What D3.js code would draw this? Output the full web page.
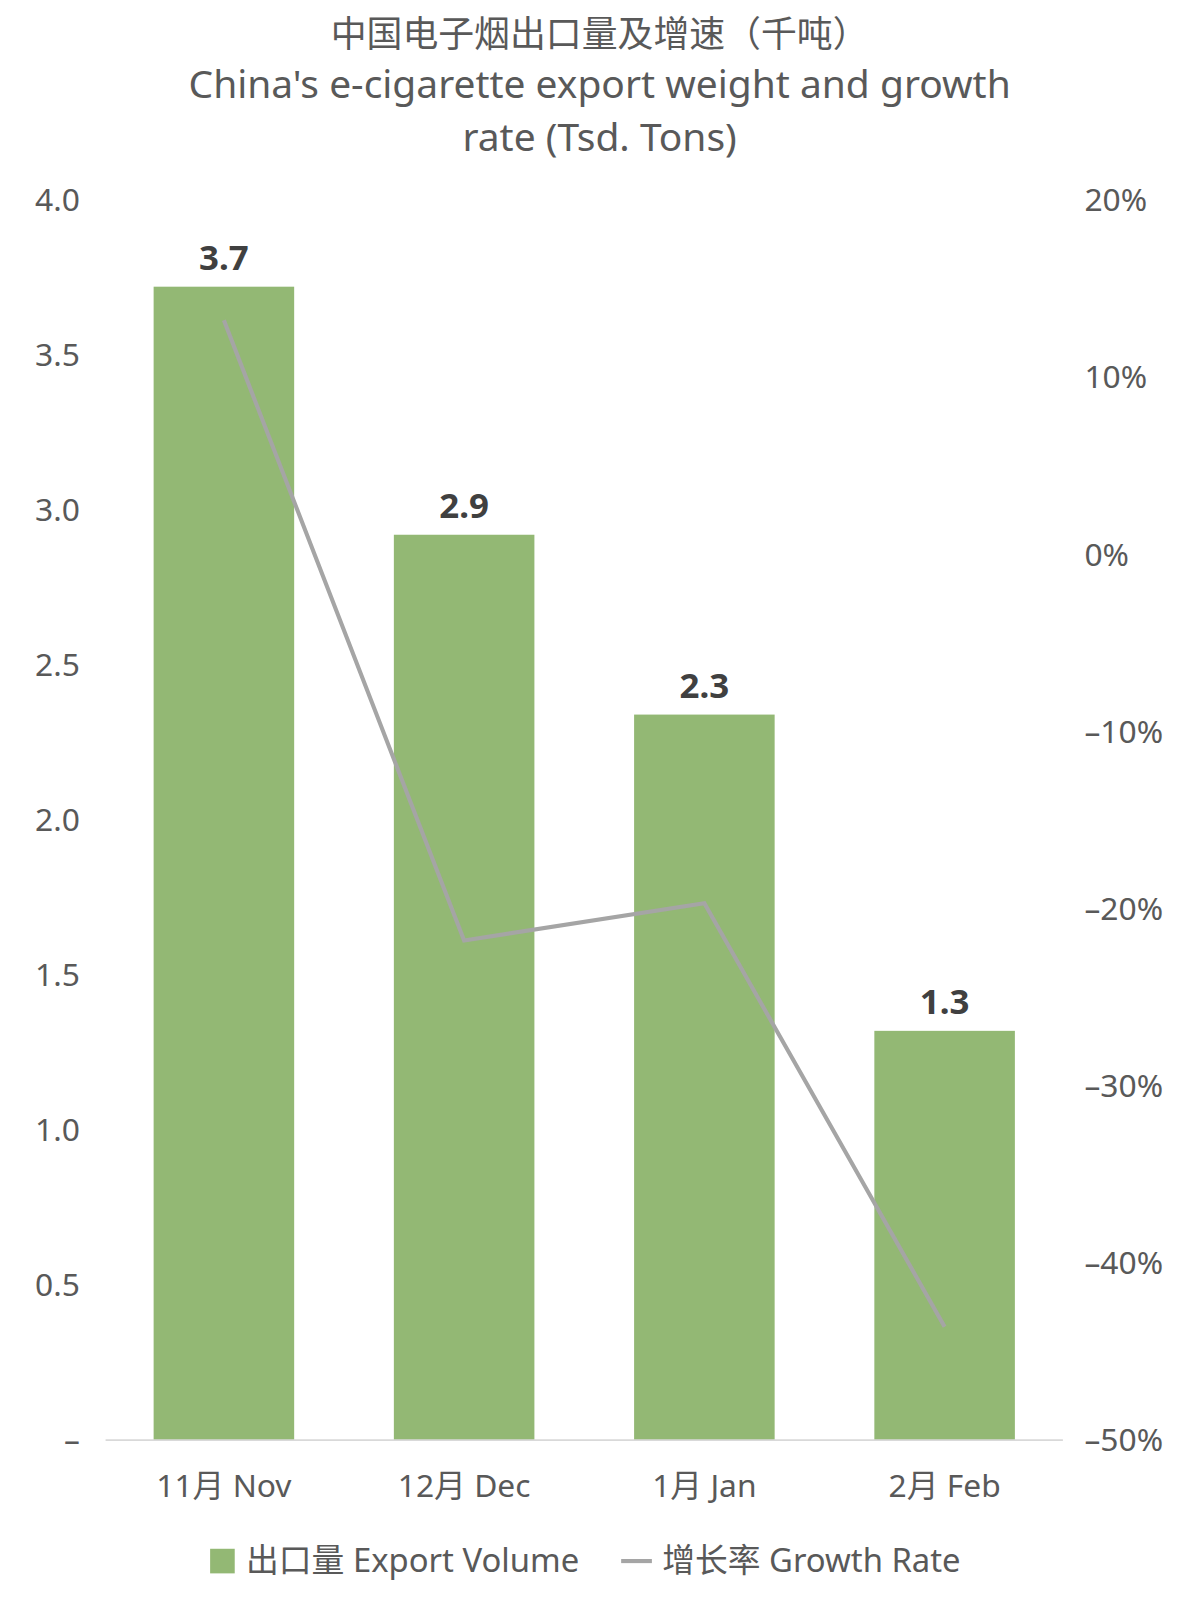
<!DOCTYPE html>
<html><head><meta charset="utf-8">
<script src="https://cdn.jsdelivr.net/npm/d3@7/dist/d3.min.js"></script>
<style>body{margin:0;background:#fff}text{font-family:"Noto Sans","Noto Sans CJK SC",sans-serif}</style>
</head><body>
<svg id="c" width="1200" height="1606"></svg>
<script>
const categories=["11月 Nov","12月 Dec","1月 Jan","2月 Feb"];
const volume=[3.72,2.92,2.34,1.32];
const volumeLabels=["3.7","2.9","2.3","1.3"];
const growth=[13.2,-21.8,-19.7,-43.6];
const leftTicks=[0,0.5,1,1.5,2,2.5,3,3.5,4];
const rightTicks=[-50,-40,-30,-20,-10,0,10,20];
const svg=d3.select("#c").append("g").attr("transform","scale(1.025)");
const x=d3.scaleBand().domain(categories).range([103,1037]).paddingInner(0.415).paddingOuter(0.2);
const y=d3.scaleLinear().domain([0,4]).range([1405,195]);
const y2=d3.scaleLinear().domain([-50,20]).range([1405,195]);
const gray="#595959";
svg.append("text").attr("x",585).attr("y",46).attr("text-anchor","middle").attr("font-size",35).attr("fill",gray).text("中国电子烟出口量及增速（千吨）");
svg.append("text").attr("x",585).attr("y",96).attr("text-anchor","middle").attr("font-size",38).attr("fill",gray).text("China's e-cigarette export weight and growth");
svg.append("text").attr("x",585).attr("y",147).attr("text-anchor","middle").attr("font-size",38).attr("fill",gray).text("rate (Tsd. Tons)");
svg.selectAll(".lt").data(leftTicks).join("text").attr("x",78).attr("y",d=>y(d)+11).attr("text-anchor","end").attr("font-size",31).attr("fill",gray).text(d=>d===0?"–":d.toFixed(1));
svg.selectAll(".rt").data(rightTicks).join("text").attr("x",1058).attr("y",d=>y2(d)+11).attr("font-size",31).attr("fill",gray).text(d=>(d<0?"–"+(-d):d)+"%");
svg.selectAll(".bar").data(volume).join("rect").attr("x",(d,i)=>x(categories[i])).attr("width",x.bandwidth()).attr("y",d=>y(d)).attr("height",d=>y(0)-y(d)).attr("fill","#93b874");
svg.append("line").attr("x1",103).attr("x2",1037).attr("y1",1405).attr("y2",1405).attr("stroke","#d9d9d9").attr("stroke-width",1.5);
svg.selectAll(".vl").data(volume).join("text").attr("x",(d,i)=>x(categories[i])+x.bandwidth()/2).attr("y",d=>y(d)-16).attr("text-anchor","middle").attr("font-size",34).attr("font-weight","bold").attr("fill","#404040").text((d,i)=>volumeLabels[i]);
const line=d3.line().x((d,i)=>x(categories[i])+x.bandwidth()/2).y(d=>y2(d));
svg.append("path").attr("d",line(growth)).attr("fill","none").attr("stroke","#a5a5a5").attr("stroke-width",4);
svg.selectAll(".cl").data(categories).join("text").attr("x",d=>x(d)+x.bandwidth()/2).attr("y",1460).attr("text-anchor","middle").attr("font-size",31).attr("fill",gray).text(d=>d);
const lg=svg.append("g");
lg.append("rect").attr("x",205).attr("y",1511).attr("width",24).attr("height",24).attr("fill","#93b874");
lg.append("text").attr("x",240).attr("y",1534).attr("font-size",32).attr("fill",gray).text("出口量 Export Volume");
lg.append("line").attr("x1",606).attr("x2",636).attr("y1",1523).attr("y2",1523).attr("stroke","#a5a5a5").attr("stroke-width",4);
lg.append("text").attr("x",646).attr("y",1534).attr("font-size",32).attr("fill",gray).text("增长率 Growth Rate");
</script></body></html>
